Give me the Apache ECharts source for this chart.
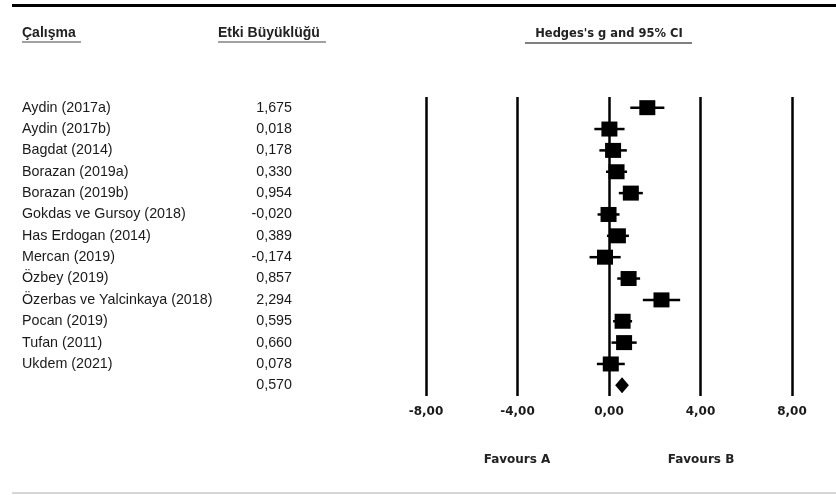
<!DOCTYPE html>
<html>
<head>
<meta charset="utf-8">
<script src="https://cdn.jsdelivr.net/npm/echarts@6/dist/echarts.min.js"></script>
<style>
  html, body { margin: 0; padding: 0; background: #fff; }
  #chart { width: 836px; height: 495px; }
</style>
</head>
<body>
<div id="chart"></div>
<script>
var studies = [
  'Aydin (2017a)', 'Aydin (2017b)', 'Bagdat (2014)', 'Borazan (2019a)', 'Borazan (2019b)',
  'Gokdas ve Gursoy (2018)', 'Has Erdogan (2014)', 'Mercan (2019)', 'Özbey (2019)',
  'Özerbas ve Yalcinkaya (2018)', 'Pocan (2019)', 'Tufan (2011)', 'Ukdem (2021)'
];
var effects = [1.675, 0.018, 0.178, 0.330, 0.954, -0.020, 0.389, -0.174, 0.857, 2.294, 0.595, 0.660, 0.078];
var lower = [0.93, -0.64, -0.42, -0.13, 0.43, -0.50, -0.09, -0.85, 0.36, 1.48, 0.18, 0.11, -0.53];
var upper = [2.42, 0.68, 0.78, 0.79, 1.48, 0.46, 0.87, 0.51, 1.36, 3.11, 1.01, 1.21, 0.69];
var summary = { effect: 0.570, lower: 0.27, upper: 0.87 };
var xTicks = [-8, -4, 0, 4, 8];
var favourLabels = ['Favours A', 'Favours B'];

function fmt(v, d) { return v.toFixed(d).replace('.', ','); }

var rowNames = studies.concat(['']);
var rowValues = effects.map(function(v) { return fmt(v, 3); }).concat([fmt(summary.effect, 3)]);

var pointData = [], ciData = [];
for (var i = 0; i < studies.length; i++) {
  pointData.push([effects[i], i]);
  ciData.push([lower[i], upper[i], i]);
}
var n = studies.length;

var chart = echarts.init(document.getElementById('chart'));
var boldFont = 'DejaVu Sans';
chart.setOption({
  animation: false,
  grid: { left: 426, width: 366, top: 97, height: 299 },
  xAxis: {
    type: 'value',
    min: xTicks[0],
    max: xTicks[xTicks.length - 1],
    interval: 4,
    axisLine: { show: false },
    axisTick: { show: false },
    splitLine: { show: true, lineStyle: { color: '#000', width: 2.5 } },
    axisLabel: {
      margin: 10,
      fontFamily: boldFont, fontWeight: 'bold', fontSize: 12, color: '#1a1a1a',
      formatter: function(v) { return fmt(v, 2); }
    }
  },
  yAxis: [{
    type: 'category',
    data: rowNames,
    inverse: true,
    axisLine: { show: false },
    axisTick: { show: false },
    splitLine: { show: false },
    axisLabel: {
      align: 'left', margin: 404, interval: 0,
      fontFamily: 'Liberation Sans', fontSize: 14.3, color: '#1a1a1a'
    }
  }, {
    type: 'category',
    data: rowValues,
    inverse: true,
    position: 'left',
    axisLine: { show: false },
    axisTick: { show: false },
    splitLine: { show: false },
    axisLabel: {
      align: 'right', margin: 134, interval: 0,
      fontFamily: 'Liberation Sans', fontSize: 14.3, color: '#1a1a1a'
    }
  }],
  series: [{
    type: 'custom',
    renderItem: function(params, api) {
      var a = api.coord([api.value(0), api.value(2)]);
      var b = api.coord([api.value(1), api.value(2)]);
      return {
        type: 'line',
        shape: { x1: a[0], y1: a[1], x2: b[0], y2: b[1] },
        style: { stroke: '#000', lineWidth: 2.5 }
      };
    },
    encode: { x: [0, 1], y: 2 },
    data: ciData,
    z: 2
  }, {
    type: 'scatter',
    symbol: 'rect',
    symbolSize: [16, 15],
    itemStyle: { color: '#000', opacity: 1 },
    data: pointData,
    z: 3
  }, {
    type: 'custom',
    renderItem: function(params, api) {
      var y = api.value(3);
      var l = api.coord([api.value(1), y]);
      var c = api.coord([api.value(0), y]);
      var r = api.coord([api.value(2), y]);
      var h = 8;
      return {
        type: 'polygon',
        shape: { points: [[l[0], c[1]], [c[0], c[1] - h], [r[0], c[1]], [c[0], c[1] + h]] },
        style: { fill: '#000' }
      };
    },
    encode: { x: [0, 1, 2], y: 3 },
    data: [[summary.effect, summary.lower, summary.upper, n]],
    z: 3
  }],
  graphic: [
    { type: 'line', shape: { x1: 12, y1: 5.5, x2: 836, y2: 5.5 }, style: { stroke: '#000', lineWidth: 3 } },
    { type: 'line', shape: { x1: 12, y1: 493, x2: 836, y2: 493 }, style: { stroke: '#c8c8c8', lineWidth: 1.5 } },
    { type: 'text', x: 22, y: 26, style: { text: 'Çalışma', font: 'bold 14px "Liberation Sans"', fill: '#222' } },
    { type: 'line', shape: { x1: 22, y1: 42, x2: 81, y2: 42 }, style: { stroke: '#444', lineWidth: 1.2 } },
    { type: 'text', x: 218, y: 26, style: { text: 'Etki Büyüklüğü', font: 'bold 14px "Liberation Sans"', fill: '#222' } },
    { type: 'line', shape: { x1: 218, y1: 42, x2: 326, y2: 42 }, style: { stroke: '#444', lineWidth: 1.2 } },
    { type: 'text', x: 609, y: 34, style: { text: "Hedges's g and 95% CI", font: 'bold 11.5px "DejaVu Sans"', fill: '#222', align: 'center', verticalAlign: 'middle' } },
    { type: 'line', shape: { x1: 525, y1: 43, x2: 692, y2: 43 }, style: { stroke: '#555', lineWidth: 1.5 } },
    { type: 'text', x: 517, y: 460, style: { text: favourLabels[0], font: 'bold 12px "DejaVu Sans"', fill: '#222', align: 'center', verticalAlign: 'middle' } },
    { type: 'text', x: 701, y: 460, style: { text: favourLabels[1], font: 'bold 12px "DejaVu Sans"', fill: '#222', align: 'center', verticalAlign: 'middle' } }
  ]
});
</script>
</body>
</html>
